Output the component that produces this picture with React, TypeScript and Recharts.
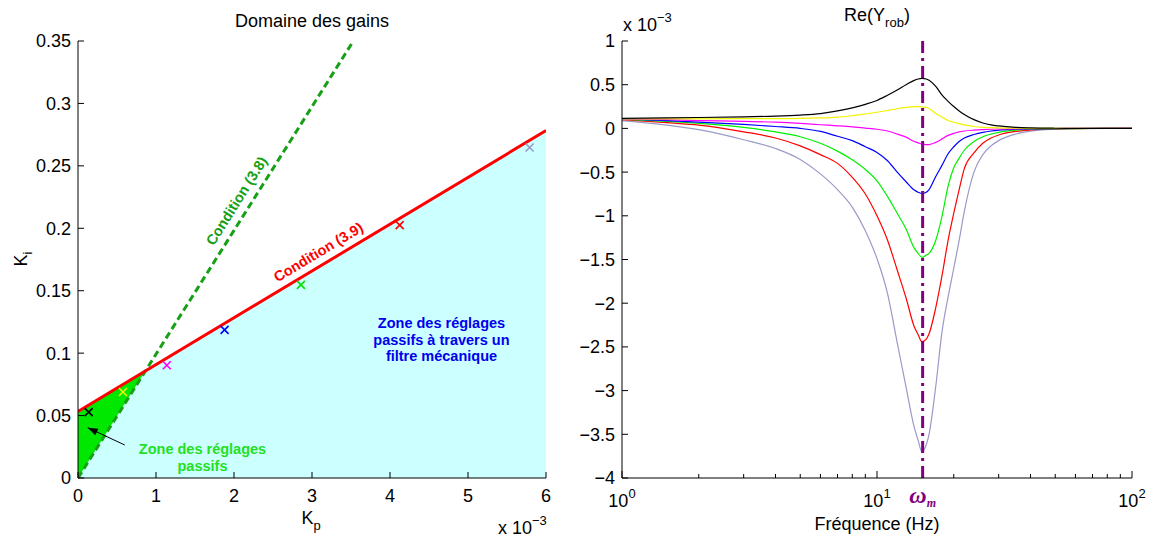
import { ComposedChart, LineChart, Line, Area, Scatter, XAxis, YAxis, ReferenceLine, ReferenceDot } from 'recharts';

const FONT = '"Liberation Sans", Arial, Helvetica, sans-serif';

// ---------- left panel : domaine des gains (Kp in 1e-3) ----------
const kpTicks = [0, 1, 2, 3, 4, 5, 6];
const kiTicks = [0, 0.05, 0.1, 0.15, 0.2, 0.25, 0.3, 0.35];

const cond39Kp = [0, 6];
const cond39Ki = [0.0533, 0.2783];
const cond38Kp = [0, 3.53];
const cond38Ki = [0, 0.35];
const cornerKp = 0.865;
const cornerKi = 0.0858;

const markKp = [0.137, 0.576, 1.139, 1.879, 2.858, 4.124, 5.79];
const markKi = [0.0528, 0.0689, 0.0903, 0.1186, 0.1547, 0.2025, 0.2647];

const arrowKp = [0.6, 0.125];
const arrowKi = [0.0264, 0.0403];

// ---------- right panel : Re(Yrob) x 1e-3 ----------
const freq = [1, 1.5, 2, 3, 4, 5, 6, 7, 8, 9, 10, 11, 12, 13, 14, 14.5, 15, 15.6, 16, 17, 18, 19, 20, 21, 22, 24, 26, 28, 30, 35, 40, 50, 60, 80, 100];
const reBlack = [0.115, 0.12, 0.125, 0.133, 0.14, 0.152, 0.17, 0.2, 0.235, 0.275, 0.32, 0.38, 0.44, 0.5, 0.55, 0.565, 0.572, 0.565, 0.55, 0.48, 0.38, 0.31, 0.25, 0.2, 0.16, 0.1, 0.062, 0.04, 0.028, 0.012, 0.006, 0.002, 0.001, 0, 0];
const reYellow = [0.11, 0.11, 0.11, 0.111, 0.112, 0.114, 0.12, 0.13, 0.145, 0.165, 0.185, 0.205, 0.225, 0.24, 0.25, 0.25, 0.245, 0.24, 0.228, 0.17, 0.13, 0.09, 0.07, 0.055, 0.04, 0.022, 0.012, 0.008, 0.005, 0.002, 0.001, 0, 0, 0, 0];
const reMagenta = [0.11, 0.1, 0.09, 0.08, 0.072, 0.058, 0.042, 0.03, 0.018, 0.004, -0.01, -0.03, -0.065, -0.1, -0.15, -0.165, -0.18, -0.185, -0.185, -0.16, -0.12, -0.08, -0.057, -0.04, -0.03, -0.02, -0.014, -0.01, -0.007, -0.004, -0.002, -0.001, 0, 0, 0];
const reBlue = [0.11, 0.09, 0.072, 0.045, 0.022, 0.0, -0.035, -0.09, -0.14, -0.21, -0.275, -0.37, -0.5, -0.61, -0.705, -0.73, -0.745, -0.73, -0.7, -0.55, -0.42, -0.29, -0.21, -0.15, -0.11, -0.07, -0.045, -0.03, -0.02, -0.01, -0.006, -0.002, -0.001, 0, 0];
const reGreen = [0.105, 0.08, 0.057, 0.011, -0.04, -0.096, -0.17, -0.26, -0.36, -0.47, -0.6, -0.78, -0.97, -1.15, -1.37, -1.43, -1.475, -1.45, -1.43, -1.28, -1.0, -0.66, -0.45, -0.34, -0.25, -0.15, -0.095, -0.065, -0.045, -0.02, -0.01, -0.004, -0.002, 0, 0];
const reRed = [0.1, 0.065, 0.038, -0.039, -0.11, -0.2, -0.3, -0.4, -0.56, -0.75, -1.0, -1.28, -1.62, -1.94, -2.27, -2.36, -2.44, -2.41, -2.35, -2.05, -1.68, -1.28, -0.97, -0.7, -0.46, -0.28, -0.17, -0.11, -0.075, -0.035, -0.018, -0.006, -0.003, 0, 0];
const reLavender = [0.09, 0.038, -0.015, -0.13, -0.23, -0.355, -0.52, -0.7, -0.9, -1.17, -1.49, -1.89, -2.45, -2.96, -3.42, -3.57, -3.7, -3.62, -3.5, -2.95, -2.32, -1.93, -1.6, -1.28, -0.95, -0.5, -0.3, -0.2, -0.14, -0.065, -0.032, -0.01, -0.004, 0, 0];

const omegaM = 15.1;
const freqTicks = [1, 2, 3, 4, 5, 6, 7, 8, 9, 10, 20, 30, 40, 50, 60, 70, 80, 90, 100];
const freqMajor = [1, 10, 100];
const reTicks = [1, 0.5, 0, -0.5, -1, -1.5, -2, -2.5, -3, -3.5, -4];

// styles
const MARK_COLORS = ['#000000', '#f0f000', '#ff00ff', '#0000ff', '#00e000', '#ff0000', '#9a9ac8'];
const SERIES = [
  { key: 'lavender', color: '#9a9ac8' },
  { key: 'red', color: '#ff0000' },
  { key: 'green', color: '#00f000' },
  { key: 'blue', color: '#0000ff' },
  { key: 'magenta', color: '#ff00ff' },
  { key: 'yellow', color: '#f2f200' },
  { key: 'black', color: '#000000' },
];

const cyanData = [
  { x: 0, y: 0 },
  { x: cornerKp, y: cornerKi },
  { x: cond39Kp[1], y: cond39Ki[1] },
];
const greenData = [
  { x: 0, r: [0, cond39Ki[0]] },
  { x: cornerKp, r: [cornerKi, cornerKi] },
];
const c39Data = cond39Kp.map((x, i) => ({ x, y: cond39Ki[i] }));
const c38Data = cond38Kp.map((x, i) => ({ x, y: cond38Ki[i] }));
const markData = markKp.map((x, i) => ({ x, y: markKi[i], i }));
const arrowData = arrowKp.map((x, i) => ({ x, y: arrowKi[i] }));

const reData = freq.map((f, i) => ({
  f,
  black: reBlack[i],
  yellow: reYellow[i],
  magenta: reMagenta[i],
  blue: reBlue[i],
  green: reGreen[i],
  red: reRed[i],
  lavender: reLavender[i],
}));

const minus = (v: number) => (v < 0 ? '\u2212' + Math.abs(v) : String(v));

// ---- ticks (MATLAB style, pointing inward) ----
const LeftYTick = (p: any) => (
  <g>
    <line x1={p.x} y1={p.y} x2={p.x + 6} y2={p.y} stroke="#000" />
    <text x={p.x - 7} y={p.y} dy="0.36em" textAnchor="end" fontSize={18} fontFamily={FONT} fill="#000">
      {minus(p.payload.value)}
    </text>
  </g>
);

const LeftXTick = (p: any) => (
  <g>
    <line x1={p.x} y1={p.y} x2={p.x} y2={p.y - 6} stroke="#000" />
    <text x={p.x} y={p.y + 24} textAnchor="middle" fontSize={18} fontFamily={FONT} fill="#000">
      {p.payload.value}
    </text>
  </g>
);

const LogXTick = (p: any) => {
  const v = p.payload.value;
  const major = freqMajor.includes(v);
  return (
    <g>
      <line x1={p.x} y1={p.y} x2={p.x} y2={p.y - (major ? 7 : 4)} stroke="#000" />
      {major && (
        <text x={p.x} y={p.y + 29} textAnchor="middle" fontSize={18} fontFamily={FONT} fill="#000">
          10<tspan dy={-9} fontSize={13}>{Math.round(Math.log10(v))}</tspan>
        </text>
      )}
    </g>
  );
};

const TopXTick = (p: any) => {
  const major = freqMajor.includes(p.payload.value);
  return <line x1={p.x} y1={p.y} x2={p.x} y2={p.y + (major ? 7 : 4)} stroke="#000" />;
};

const RightYTick = (p: any) => <line x1={p.x} y1={p.y} x2={p.x - 6} y2={p.y} stroke="#000" />;

// ---- annotations ----
const rotLabel = (text: string, color: string, angle: number) => (props: any) => {
  const vb = props.viewBox || {};
  const cx = vb.x + (vb.width || 0) / 2;
  const cy = vb.y + (vb.height || 0) / 2;
  return (
    <text x={cx} y={cy} dy="0.36em" textAnchor="middle" fill={color} fontSize={14.5} fontWeight="bold"
      fontFamily={FONT} transform={`rotate(${angle} ${cx} ${cy})`}>
      {text}
    </text>
  );
};

const blockLabel = (lines: string[], color: string, gap: number) => (props: any) => {
  const vb = props.viewBox || {};
  const cx = vb.x + (vb.width || 0) / 2;
  const cy = vb.y + (vb.height || 0) / 2;
  const first = cy - ((lines.length - 1) * gap) / 2;
  return (
    <text textAnchor="middle" fill={color} fontSize={14.5} fontWeight="bold" fontFamily={FONT}>
      {lines.map((l, i) => (
        <tspan key={i} x={cx} y={first + i * gap} dy="0.36em">{l}</tspan>
      ))}
    </text>
  );
};

const ArrowHead = (p: any) => {
  if (p.index !== 1) return <g key={`ah${p.index}`} />;
  const ux = -0.906, uy = -0.423;
  const bx = p.cx - 10 * ux, by = p.cy - 10 * uy;
  const nx = -uy * 3.6, ny = ux * 3.6;
  return (
    <polygon key="ah1" points={`${p.cx},${p.cy} ${bx + nx},${by + ny} ${bx - nx},${by - ny}`} fill="#000" />
  );
};

const Cross = (p: any) => {
  const c = MARK_COLORS[p.payload.i];
  const s = 4;
  return (
    <g stroke={c} strokeWidth={1.6}>
      <line x1={p.cx - s} y1={p.cy - s} x2={p.cx + s} y2={p.cy + s} />
      <line x1={p.cx - s} y1={p.cy + s} x2={p.cx + s} y2={p.cy - s} />
    </g>
  );
};

const OmegaLabel = (props: any) => {
  const vb = props.viewBox || {};
  const x = vb.x;
  const y = vb.y + vb.height;
  return (
    <text x={x} y={y + 25} textAnchor="middle" fill="#800080" fontWeight="bold" fontStyle="italic"
      fontFamily='"Liberation Serif", "DejaVu Serif", serif' fontSize={24}>
      ω<tspan dy={4} fontSize={12}>m</tspan>
    </text>
  );
};

export default function App() {
  return (
    <div style={{ position: 'absolute', left: 0, top: 0, width: 1154, height: 543, background: '#fff', overflow: 'hidden' }}>
      <div style={{ position: 'absolute', left: 0, top: 0 }}>
        <ComposedChart width={560} height={543} margin={{ top: 41, right: 14, bottom: 35, left: 0 }}>
          <XAxis dataKey="x" type="number" domain={[0, 6]} ticks={kpTicks} interval={0} allowDataOverflow
            height={30} tickSize={0} tickMargin={0} tick={LeftXTick} axisLine={{ stroke: '#000' }} tickLine={false} />
          <YAxis type="number" domain={[0, 0.35]} ticks={kiTicks} interval={0} allowDataOverflow
            width={78} tickSize={0} tickMargin={0} tick={LeftYTick} axisLine={{ stroke: '#000' }} tickLine={false} />
          <Area data={cyanData} dataKey="y" type="linear" fill="#ccffff" fillOpacity={1} stroke="none" isAnimationActive={false} />
          <Area data={greenData} dataKey="r" type="linear" fill="#00e800" fillOpacity={1} stroke="none" isAnimationActive={false} />
          <Line data={c38Data} dataKey="y" type="linear" stroke="#16a016" strokeWidth={3} strokeDasharray="7 4"
            dot={false} activeDot={false} isAnimationActive={false} />
          <Line data={c39Data} dataKey="y" type="linear" stroke="#ff0000" strokeWidth={3}
            dot={false} activeDot={false} isAnimationActive={false} />
          <Line data={arrowData} dataKey="y" type="linear" stroke="#000" strokeWidth={1}
            dot={ArrowHead} activeDot={false} isAnimationActive={false} />
          <Scatter data={markData} dataKey="y" shape={Cross} isAnimationActive={false} />
          <ReferenceDot x={2.03} y={0.222} r={0} fill="none" stroke="none"
            label={rotLabel('Condition (3.8)', '#16a016', -57.8)} />
          <ReferenceDot x={3.08} y={0.181} r={0} fill="none" stroke="none"
            label={rotLabel('Condition (3.9)', '#ff0000', -31)} />
          <ReferenceDot x={4.66} y={0.111} r={0} fill="none" stroke="none"
            label={blockLabel(['Zone des réglages', 'passifs à travers un', 'filtre mécanique'], '#0000ee', 16.5)} />
          <ReferenceDot x={1.596} y={0.0164} r={0} fill="none" stroke="none"
            label={blockLabel(['Zone des réglages', 'passifs'], '#22e022', 17.5)} />
        </ComposedChart>
      </div>

      <div style={{ position: 'absolute', left: 560, top: 0 }}>
        <LineChart width={594} height={543} data={reData} margin={{ top: 41, right: 22, bottom: 35, left: 0 }}>
          <XAxis dataKey="f" type="number" scale="log" domain={[1, 100]} ticks={freqTicks} interval={0} allowDataOverflow
            height={30} tickSize={0} tickMargin={0} tick={LogXTick} axisLine={{ stroke: '#000' }} tickLine={false} />
          <XAxis xAxisId="top" orientation="top" dataKey="f" type="number" scale="log" domain={[1, 100]} ticks={freqTicks}
            interval={0} allowDataOverflow height={0} tickSize={0} tickMargin={0} tick={TopXTick}
            axisLine={{ stroke: '#000' }} tickLine={false} />
          <YAxis type="number" domain={[-4, 1]} ticks={reTicks} interval={0} allowDataOverflow
            width={62} tickSize={0} tickMargin={0} tick={LeftYTick} axisLine={{ stroke: '#000' }} tickLine={false} />
          <YAxis yAxisId="right" orientation="right" type="number" domain={[-4, 1]} ticks={reTicks} interval={0}
            allowDataOverflow width={0} tickSize={0} tickMargin={0} tick={RightYTick}
            axisLine={{ stroke: '#000' }} tickLine={false} />
          {SERIES.map((s) => (
            <Line key={s.key} dataKey={s.key} type="monotone" stroke={s.color} strokeWidth={1.2}
              dot={false} activeDot={false} isAnimationActive={false} />
          ))}
          <ReferenceLine x={omegaM} stroke="#800080" strokeWidth={3} strokeDasharray="12 5 3 5" label={OmegaLabel} />
        </LineChart>
      </div>

      <svg width={1154} height={543} style={{ position: 'absolute', left: 0, top: 0, pointerEvents: 'none' }}
        fontFamily={FONT} fill="#000">
        <text x={312} y={27} textAnchor="middle" fontSize={18}>Domaine des gains</text>
        <text transform="translate(27,259) rotate(-90)" textAnchor="middle" fontSize={18}>
          K<tspan dy={5} fontSize={13}>i</tspan>
        </text>
        <text x={311} y={524} textAnchor="middle" fontSize={18}>
          K<tspan dy={6} fontSize={13}>p</tspan>
        </text>
        <text x={498} y={534} fontSize={18}>
          x 10<tspan dy={-9} fontSize={13}>{'\u22123'}</tspan>
        </text>
        <text x={877} y={21} textAnchor="middle" fontSize={18}>
          Re(Y<tspan dy={6} fontSize={13}>rob</tspan><tspan dy={-6}>)</tspan>
        </text>
        <text x={623} y={31} fontSize={18}>
          x 10<tspan dy={-9} fontSize={13}>{'\u22123'}</tspan>
        </text>
        <text x={877} y={530} textAnchor="middle" fontSize={18}>Fréquence (Hz)</text>
      </svg>
    </div>
  );
}
